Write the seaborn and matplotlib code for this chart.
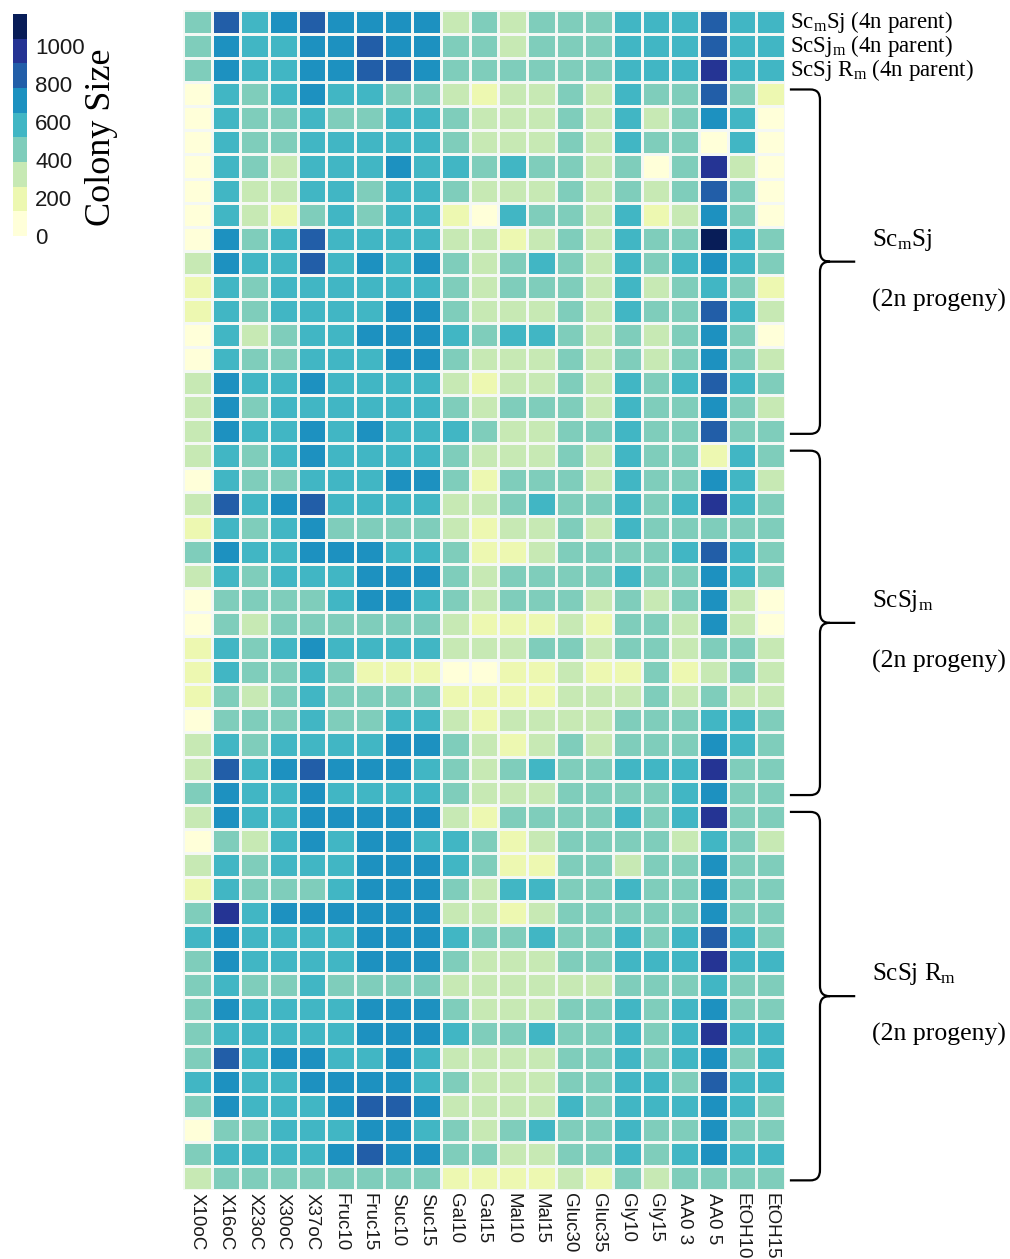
import numpy as np
import pandas as pd
import matplotlib
matplotlib.use("Agg")
import matplotlib.pyplot as plt
from matplotlib.colors import ListedColormap
from matplotlib.path import Path
from matplotlib.patches import PathPatch
import seaborn as sns

# Growth conditions (columns)
conditions = ["X10oC", "X16oC", "X23oC", "X30oC", "X37oC", "Fruc10", "Fruc15",
              "Suc10", "Suc15", "Gal10", "Gal15", "Mal10", "Mal15", "Gluc30",
              "Gluc35", "Gly10", "Gly15", "AA0 3", "AA0 5", "EtOH10", "EtOH15"]

# Colony sizes of the three 4n parents
parents = [
    [450, 850, 590, 720, 850, 720, 720, 720, 720, 330, 450, 330, 450, 450, 450, 590, 590, 590, 850, 590, 590],
    [450, 720, 590, 590, 720, 720, 850, 720, 720, 450, 450, 330, 450, 450, 450, 590, 590, 590, 850, 590, 590],
    [450, 720, 590, 590, 720, 720, 850, 850, 720, 450, 450, 450, 450, 450, 450, 590, 590, 590, 980, 590, 590],
]
parent_labels = [r"Sc$_\mathrm{m}$Sj (4n parent)",
                 r"ScSj$_\mathrm{m}$ (4n parent)",
                 r"ScSj R$_\mathrm{m}$ (4n parent)"]

# 2n progeny of ScmSj
scmsj_progeny = [
    [60, 590, 450, 590, 720, 590, 590, 450, 450, 330, 200, 330, 330, 450, 330, 590, 450, 450, 850, 450, 200],
    [60, 590, 450, 450, 590, 450, 450, 590, 590, 450, 330, 330, 330, 450, 330, 590, 330, 450, 720, 590, 60],
    [60, 590, 450, 450, 590, 590, 590, 590, 590, 450, 330, 330, 330, 450, 330, 590, 450, 450, 60, 590, 60],
    [60, 590, 450, 330, 590, 590, 590, 720, 590, 590, 450, 590, 450, 450, 330, 450, 60, 450, 980, 330, 60],
    [60, 590, 330, 330, 590, 590, 450, 590, 590, 450, 330, 330, 330, 450, 330, 450, 330, 450, 850, 450, 60],
    [60, 590, 330, 200, 450, 590, 450, 590, 590, 200, 60, 590, 450, 450, 330, 590, 200, 330, 720, 450, 60],
    [60, 720, 450, 590, 850, 590, 590, 590, 590, 330, 330, 200, 330, 450, 330, 590, 450, 450, 1110, 590, 450],
    [330, 720, 590, 590, 850, 590, 720, 590, 720, 450, 330, 450, 590, 450, 330, 590, 450, 590, 720, 590, 450],
    [200, 590, 450, 590, 590, 590, 590, 590, 590, 450, 330, 450, 450, 450, 330, 590, 330, 450, 590, 450, 200],
    [200, 590, 450, 590, 590, 590, 590, 720, 720, 450, 330, 330, 330, 450, 330, 590, 450, 450, 850, 590, 330],
    [60, 590, 330, 450, 590, 590, 720, 720, 720, 590, 450, 590, 590, 450, 330, 450, 330, 450, 720, 450, 60],
    [60, 590, 450, 450, 590, 590, 590, 720, 720, 450, 330, 330, 330, 450, 330, 450, 330, 450, 720, 450, 330],
    [330, 720, 590, 590, 720, 590, 590, 590, 590, 330, 200, 330, 330, 450, 330, 590, 450, 590, 850, 590, 450],
    [330, 720, 450, 590, 590, 590, 590, 590, 590, 450, 330, 450, 450, 450, 330, 590, 450, 450, 720, 450, 330],
    [330, 720, 590, 590, 720, 590, 720, 590, 590, 590, 450, 330, 330, 450, 450, 590, 450, 450, 850, 450, 450],
]

# 2n progeny of ScSjm
scsjm_progeny = [
    [330, 590, 450, 590, 720, 590, 590, 590, 590, 450, 330, 330, 330, 450, 330, 590, 450, 450, 200, 590, 450],
    [60, 590, 450, 450, 590, 590, 590, 720, 720, 450, 200, 450, 450, 450, 330, 590, 450, 450, 720, 590, 330],
    [330, 850, 590, 720, 850, 590, 590, 590, 590, 330, 330, 450, 590, 450, 450, 590, 450, 590, 980, 590, 450],
    [200, 590, 450, 590, 720, 450, 450, 450, 450, 330, 200, 330, 330, 450, 330, 590, 450, 450, 450, 450, 450],
    [450, 720, 590, 590, 720, 720, 720, 590, 590, 450, 200, 200, 330, 450, 450, 450, 450, 590, 850, 590, 450],
    [330, 590, 450, 590, 590, 590, 720, 720, 720, 450, 330, 450, 450, 450, 450, 590, 450, 450, 720, 590, 450],
    [60, 450, 450, 450, 450, 590, 720, 720, 590, 450, 330, 450, 450, 450, 330, 450, 330, 450, 720, 330, 60],
    [60, 450, 330, 450, 450, 450, 450, 450, 450, 330, 200, 200, 200, 330, 200, 450, 450, 330, 720, 330, 60],
    [200, 590, 450, 590, 720, 590, 590, 590, 590, 330, 330, 330, 450, 450, 330, 450, 450, 330, 450, 450, 330],
    [200, 590, 450, 450, 590, 450, 200, 200, 200, 60, 60, 200, 200, 330, 200, 200, 450, 200, 330, 450, 330],
    [200, 450, 330, 450, 590, 450, 450, 450, 450, 200, 200, 200, 200, 330, 330, 330, 450, 330, 450, 330, 330],
    [60, 450, 450, 450, 590, 450, 450, 590, 590, 330, 200, 330, 330, 330, 330, 450, 450, 450, 590, 590, 450],
    [330, 590, 450, 590, 590, 590, 590, 720, 720, 450, 330, 200, 330, 450, 330, 450, 450, 450, 720, 590, 450],
    [330, 850, 590, 720, 850, 720, 720, 720, 590, 450, 330, 450, 590, 450, 450, 590, 590, 590, 980, 450, 450],
    [450, 720, 590, 590, 720, 590, 590, 590, 590, 450, 330, 330, 330, 450, 450, 450, 450, 590, 720, 450, 450],
]

# 2n progeny of ScSj Rm
scsjrm_progeny = [
    [330, 720, 590, 590, 720, 720, 720, 720, 720, 330, 200, 450, 450, 450, 450, 590, 450, 590, 980, 450, 450],
    [60, 450, 330, 590, 720, 590, 720, 720, 590, 590, 450, 200, 330, 450, 450, 450, 450, 330, 590, 450, 330],
    [330, 590, 450, 590, 590, 590, 720, 720, 720, 590, 450, 200, 200, 450, 450, 330, 450, 450, 720, 450, 450],
    [200, 590, 450, 450, 450, 590, 720, 720, 720, 450, 330, 590, 590, 450, 450, 590, 450, 450, 720, 450, 450],
    [450, 980, 590, 720, 720, 720, 720, 720, 720, 330, 330, 200, 330, 450, 450, 450, 450, 450, 720, 450, 450],
    [590, 720, 590, 590, 590, 590, 720, 720, 720, 590, 450, 450, 590, 450, 450, 590, 450, 590, 850, 590, 450],
    [450, 720, 590, 590, 590, 590, 720, 720, 720, 450, 330, 330, 330, 450, 450, 590, 590, 590, 980, 590, 590],
    [450, 590, 450, 450, 590, 450, 450, 450, 450, 330, 330, 330, 330, 330, 330, 450, 450, 450, 590, 450, 450],
    [450, 720, 590, 590, 590, 590, 720, 720, 720, 450, 330, 330, 330, 450, 450, 590, 450, 590, 720, 450, 450],
    [450, 590, 590, 590, 590, 590, 720, 720, 720, 590, 450, 450, 590, 450, 450, 590, 450, 590, 980, 590, 590],
    [450, 850, 590, 720, 720, 590, 590, 720, 590, 330, 330, 330, 330, 450, 450, 590, 450, 590, 720, 450, 590],
    [590, 720, 590, 590, 720, 720, 720, 720, 590, 450, 330, 330, 330, 450, 450, 590, 590, 450, 850, 590, 590],
    [450, 720, 590, 590, 590, 720, 850, 850, 720, 330, 330, 330, 330, 590, 450, 590, 590, 590, 720, 590, 450],
    [60, 450, 450, 590, 590, 590, 720, 720, 590, 450, 330, 450, 590, 450, 450, 590, 450, 450, 720, 450, 450],
    [450, 590, 590, 590, 590, 720, 850, 720, 720, 450, 450, 330, 330, 450, 450, 590, 450, 590, 720, 590, 590],
    [330, 450, 450, 450, 450, 450, 450, 450, 450, 200, 200, 200, 200, 330, 200, 450, 330, 450, 450, 450, 450],
]

progeny_groups = [
    (r"Sc$_\mathrm{m}$Sj", scmsj_progeny),
    (r"ScSj$_\mathrm{m}$", scsjm_progeny),
    (r"ScSj R$_\mathrm{m}$", scsjrm_progeny),
]

# Nine-step YlGnBu scale
ylgnbu9 = ["#ffffd9", "#edf8b1", "#c7e9b4", "#7fcdbb", "#41b6c4",
           "#1d91c0", "#225ea8", "#253494", "#081d58"]
cmap = ListedColormap(ylgnbu9)
vmin, vmax = 0, 1170
cbar_ticks = [0, 200, 400, 600, 800, 1000]

rows = parents + [r for _, g in progeny_groups for r in g]
df = pd.DataFrame(rows, columns=conditions)

serif = "Liberation Serif"
sans = "Liberation Sans"
plt.rcParams["mathtext.fontset"] = "custom"
plt.rcParams["mathtext.rm"] = serif
plt.rcParams["mathtext.it"] = serif + ":italic"

W, H = 1010, 1259
fig = plt.figure(figsize=(W / 100, H / 100), dpi=100)
ax = fig.add_axes([183 / W, 1 - 1190 / H, 602 / W, 1180 / H])
cax = fig.add_axes([13 / W, 1 - 236 / H, 14 / W, 222 / H])

sns.heatmap(df, ax=ax, cbar_ax=cax, cmap=cmap, vmin=vmin, vmax=vmax,
            linewidths=0.8, linecolor="#f4f8f4",
            xticklabels=conditions, yticklabels=False,
            cbar_kws={"ticks": cbar_ticks})

ax.tick_params(axis="x", length=0, pad=2)
ax.tick_params(axis="y", length=0)
ax.set_xlabel("")
ax.set_ylabel("")
for lab in ax.get_xticklabels():
    lab.set_rotation(270)
    lab.set_fontsize(13.5)
    lab.set_family(sans)
    lab.set_color("#1a1a1a")
    lab.set_ha("center")
    lab.set_va("top")

cax.tick_params(length=0, labelsize=16, pad=6)
for lab in cax.get_yticklabels():
    lab.set_family(sans)
    lab.set_color("#1a1a1a")
fig.text(101 / W, 1 - 137 / H, "Colony Size", rotation=90, ha="center", va="center",
         family=serif, fontsize=26)

# Parent labels to the right of the first three rows
ncol = len(conditions)
for i, lab in enumerate(parent_labels):
    ax.text(ncol + 0.17, i + 0.5, lab, ha="left", va="center", family=serif,
            fontsize=16.5, clip_on=False)


def curly_brace(ax, top, bottom, x0, x1, x2, rx, ry):
    mid = (top + bottom) / 2
    verts = [
        (x0, top), (x1 - rx, top),
        (x1 - rx * 0.3, top), (x1, top + ry * 0.3), (x1, top + ry),
        (x1, mid - ry),
        (x1, mid - ry * 0.3), (x1 + rx * 0.3, mid), (x1 + rx, mid),
        (x2, mid),
        (x1 + rx, mid),
        (x1 + rx * 0.3, mid), (x1, mid + ry * 0.3), (x1, mid + ry),
        (x1, bottom - ry),
        (x1, bottom - ry * 0.3), (x1 - rx * 0.3, bottom), (x1 - rx, bottom),
        (x0, bottom),
    ]
    codes = [Path.MOVETO, Path.LINETO,
             Path.CURVE4, Path.CURVE4, Path.CURVE4,
             Path.LINETO,
             Path.CURVE4, Path.CURVE4, Path.CURVE4,
             Path.LINETO,
             Path.MOVETO,
             Path.CURVE4, Path.CURVE4, Path.CURVE4,
             Path.LINETO,
             Path.CURVE4, Path.CURVE4, Path.CURVE4,
             Path.LINETO]
    patch = PathPatch(Path(verts, codes), facecolor="none", edgecolor="black",
                      lw=1.6, clip_on=False, capstyle="butt", joinstyle="round")
    ax.add_patch(patch)
    return mid


start = len(parents)
for name, group in progeny_groups:
    end = start + len(group) - 1
    mid = curly_brace(ax, start + 0.3, end + 0.6, ncol + 0.17, ncol + 1.22,
                      ncol + 2.45, 0.35, 0.45)
    ax.text(ncol + 3.03, mid - 0.9, name, ha="left", va="center", family=serif,
            fontsize=18, clip_on=False)
    ax.text(ncol + 3.03, mid + 1.6, "(2n progeny)", ha="left", va="center",
            family=serif, fontsize=18.5, clip_on=False)
    start = end + 1

fig.savefig("out.png", dpi=100, facecolor="white")
